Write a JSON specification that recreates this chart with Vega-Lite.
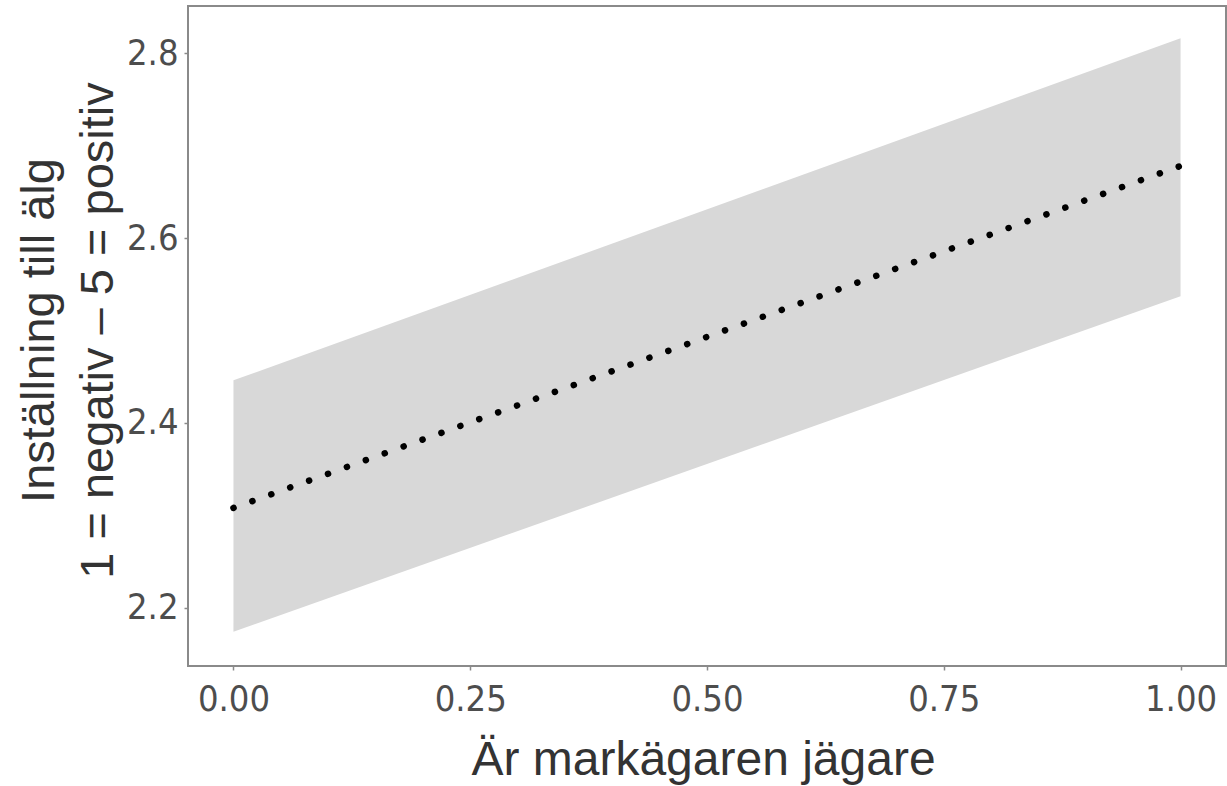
{
  "$schema": "https://vega.github.io/schema/vega-lite/v6.json",
  "width": 1038,
  "height": 660,
  "autosize": {"type": "none"},
  "padding": {"left": 188, "top": 6, "right": 1, "bottom": 120},
  "background": "white",
  "config": {
    "view": {"stroke": "#8a8a8a", "strokeWidth": 2},
    "axis": {
      "grid": false,
      "domain": false,
      "ticks": true,
      "tickColor": "#8a8a8a",
      "tickWidth": 1.5,
      "tickSize": 4,
      "labelFont": "'DejaVu Sans Condensed', 'Liberation Sans', sans-serif",
      "labelFontSize": 36,
      "labelColor": "#4d4d4d",
      "titleFont": "Liberation Sans",
      "titleFontSize": 47,
      "titleFontWeight": "normal",
      "titleColor": "#333333"
    }
  },
  "data": {
    "values": [
      {"x": 0, "fit": 2.308, "lower": 2.174, "upper": 2.446},
      {"x": 1, "fit": 2.678, "lower": 2.537, "upper": 2.816}
    ]
  },
  "layer": [
    {
      "mark": {"type": "area", "color": "#d8d8d8", "opacity": 1},
      "encoding": {
        "x": {"field": "x", "type": "quantitative"},
        "y": {"field": "lower", "type": "quantitative"},
        "y2": {"field": "upper"}
      }
    },
    {
      "mark": {"type": "line", "color": "#000000", "strokeWidth": 6.5, "strokeCap": "round", "strokeDash": [0.1, 20]},
      "encoding": {
        "x": {
          "field": "x",
          "type": "quantitative",
          "scale": {"domain": [-0.048, 1.048], "nice": false, "zero": false},
          "axis": {
            "values": [0, 0.25, 0.5, 0.75, 1],
            "format": ".2f",
            "labelPadding": 12,
            "labelBaseline": "top",
            "title": "Är markägaren jägare",
            "titleFontSize": 48,
            "titleBaseline": "alphabetic",
            "titleY": 108,
            "titleX": 515,
            "titleAnchor": "start",
            "titleAlign": "center"
          }
        },
        "y": {
          "field": "fit",
          "type": "quantitative",
          "scale": {"domain": [2.137, 2.851], "nice": false, "zero": false},
          "axis": {
            "values": [2.2, 2.4, 2.6, 2.8],
            "format": ".1f",
            "labelPadding": 6,
            "title": ["Inställning till älg", "1 = negativ – 5 = positiv"],
            "titleAngle": -90,
            "titleBaseline": "alphabetic",
            "titleAlign": "center",
            "titleLineHeight": 59,
            "titleX": -135,
            "titleY": 324
          }
        }
      }
    }
  ]
}
